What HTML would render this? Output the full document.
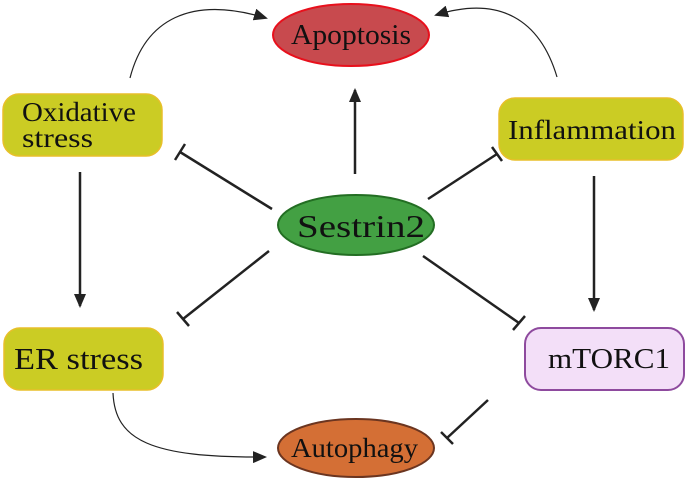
<!DOCTYPE html>
<html><head><meta charset="utf-8"><style>
html,body{margin:0;padding:0;background:#fff;width:685px;height:486px;overflow:hidden}
svg text{font-family:"Liberation Serif",serif;fill:#111}
</style></head><body>
<svg width="685" height="486" viewBox="0 0 685 486" xmlns="http://www.w3.org/2000/svg">
<defs>
<marker id="a" markerWidth="14" markerHeight="12" refX="12" refY="6" orient="auto" markerUnits="userSpaceOnUse">
<path d="M0,0 L14,6 L0,12 Z" fill="#222"/></marker>
</defs>
<!-- nodes -->
<ellipse cx="351" cy="35" rx="78" ry="31" fill="#c84a4e" stroke="#e8101c" stroke-width="2"/>
<text x="291" y="44" font-size="28" textLength="120" lengthAdjust="spacingAndGlyphs">Apoptosis</text>
<rect x="3" y="94" width="159" height="62" rx="16" fill="#cbcc24" stroke="#e8bf2a" stroke-width="1.5"/>
<text x="22" y="121" font-size="27" textLength="114" lengthAdjust="spacingAndGlyphs">Oxidative</text>
<text x="22" y="147" font-size="27" textLength="71" lengthAdjust="spacingAndGlyphs">stress</text>
<rect x="499" y="98" width="184" height="62" rx="16" fill="#cbcc24" stroke="#e8bf2a" stroke-width="1.5"/>
<text x="508" y="139" font-size="27" textLength="168" lengthAdjust="spacingAndGlyphs">Inflammation</text>
<ellipse cx="356" cy="225" rx="78" ry="30" fill="#43a043" stroke="#236e23" stroke-width="2"/>
<text x="297" y="237" font-size="32" textLength="128" lengthAdjust="spacingAndGlyphs">Sestrin2</text>
<rect x="4" y="328" width="159" height="62" rx="16" fill="#cbcc24" stroke="#e8bf2a" stroke-width="1.5"/>
<text x="14" y="369" font-size="31" textLength="129" lengthAdjust="spacingAndGlyphs">ER stress</text>
<rect x="525" y="328" width="159" height="62" rx="16" fill="#f3dff8" stroke="#8e4a9e" stroke-width="2"/>
<text x="548" y="368" font-size="29" textLength="122" lengthAdjust="spacingAndGlyphs">mTORC1</text>
<ellipse cx="356" cy="448" rx="78" ry="29" fill="#d46f35" stroke="#6b3520" stroke-width="2"/>
<text x="291" y="457" font-size="27" textLength="127" lengthAdjust="spacingAndGlyphs">Autophagy</text>
<!-- connectors -->
<g stroke="#222" stroke-width="2.5" fill="none">
<line x1="355" y1="174" x2="355" y2="90" marker-end="url(#a)"/>
<line x1="80" y1="172" x2="80" y2="306" marker-end="url(#a)"/>
<line x1="594" y1="176" x2="594" y2="310" marker-end="url(#a)"/>
<line x1="272" y1="209" x2="180" y2="152"/>
<line x1="175" y1="160" x2="185" y2="144"/>
<line x1="428" y1="199" x2="497" y2="154"/>
<line x1="492" y1="147" x2="502" y2="161"/>
<line x1="269" y1="251" x2="183" y2="319"/>
<line x1="177" y1="312" x2="189" y2="326"/>
<line x1="423" y1="256" x2="519" y2="323"/>
<line x1="513" y1="330" x2="525" y2="316"/>
<line x1="488" y1="400" x2="447" y2="438"/>
<line x1="441" y1="432" x2="453" y2="444"/>
</g>
<g stroke="#222" stroke-width="1.2" fill="none">
<path d="M130,78 C145,20 190,-5 266,18" marker-end="url(#a)"/>
<path d="M557,77 C540,20 500,-5 436,15" marker-end="url(#a)"/>
<path d="M113,393 C115,440 150,458 265,457" marker-end="url(#a)"/>
</g>
</svg>
</body></html>
